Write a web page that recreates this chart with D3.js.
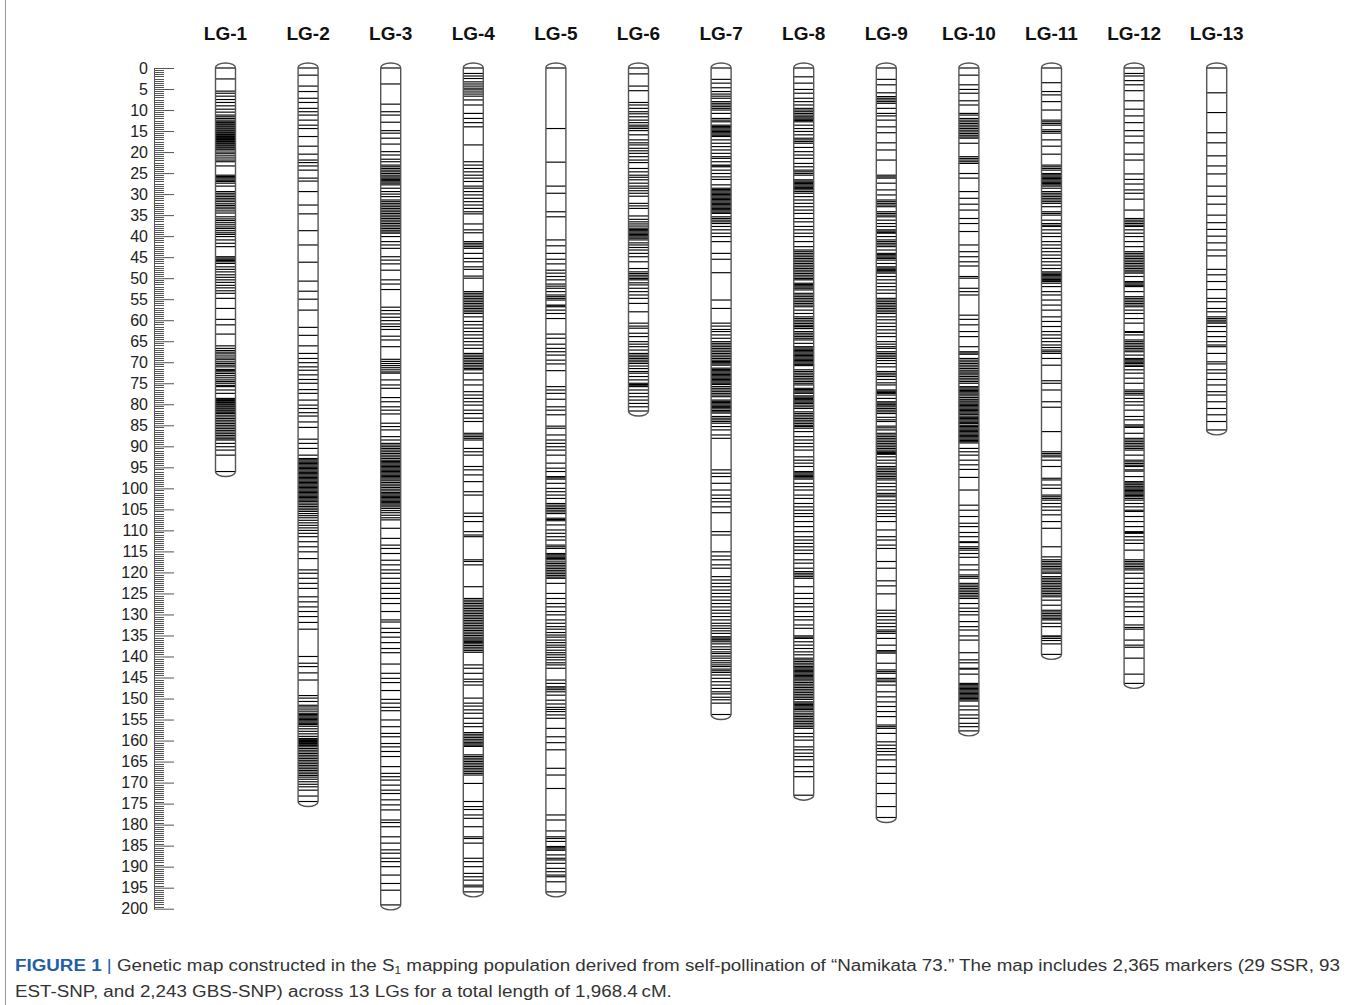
<!DOCTYPE html>
<html>
<head>
<meta charset="utf-8">
<script src="https://cdn.jsdelivr.net/npm/d3@7"></script>
<style>
  body { margin: 0; background: #fff; }
  svg { display: block; }
</style>
</head>
<body>
<div id="map"></div>
<script>
// linkage groups and marker positions (cM)
const lgNames = ["LG-1", "LG-2", "LG-3", "LG-4", "LG-5", "LG-6", "LG-7", "LG-8", "LG-9", "LG-10", "LG-11", "LG-12", "LG-13"];

const lg1 = [0,2.6,5.5,6.0,6.7,7.5,8.2,9.0,9.8,10.5,11.2,11.6,12.0,12.4,12.8,13.0,13.3,13.5,13.8,14.0,14.3,14.5,14.8,15.0,15.3,15.5,15.8,16.0,16.3,16.5,16.8,17.0,17.3,17.5,17.8,18.0,18.3,18.5,18.8,19.0,19.3,19.5,20.0,20.4,20.9,21.4,21.9,22.3,23.3,25.5,25.8,26.1,26.4,26.7,27.0,27.4,28.1,29.4,29.8,30.2,30.6,31.0,31.4,31.8,32.3,32.7,33.1,33.5,34.0,34.5,35.4,35.9,36.3,36.8,37.3,37.8,38.2,38.7,39.2,39.6,40.1,40.9,41.7,42.5,44.9,45.2,45.5,45.8,46.1,46.5,47.3,47.9,48.5,49.2,49.8,50.4,51.0,51.7,52.3,53.0,53.6,54.8,57.2,59.8,61.1,63.3,66.1,66.7,67.2,67.6,68.0,68.5,69.0,69.4,69.9,70.3,70.7,71.1,71.7,72.0,72.3,72.7,73.2,73.7,74.2,74.6,75.0,75.5,75.8,76.6,77.4,78.6,78.9,79.1,79.4,79.6,79.9,80.1,80.4,80.6,80.9,81.1,81.4,81.6,81.9,82.2,82.6,83.0,83.4,83.8,84.2,84.6,85.0,85.4,85.8,86.2,86.6,87.0,87.4,87.8,88.2,88.5,89.3,90.1,90.9,92.1,96.0];
const lg2 = [0,1.7,4.3,5.6,7.2,8.2,9.6,10.4,11.2,12.4,13.6,14.4,16.3,18.6,20.5,21.9,22.5,23.3,24.3,26.2,26.9,29.4,32.6,34.7,38.7,42.1,46.2,50.7,53.1,55.0,57.6,61.7,63.6,66.1,67.9,69.1,70.1,71.1,71.9,73.0,74.1,75.0,76.5,77.4,79.0,80.2,81.0,82.0,82.8,84.2,85.5,88.3,89.3,90.5,92.1,92.9,93.2,93.5,93.8,94.1,94.4,94.7,95.0,95.3,95.6,95.9,96.2,96.5,96.8,97.1,97.4,97.7,98.0,98.3,98.6,98.9,99.2,99.5,99.8,100.1,100.4,100.7,101.0,101.3,101.6,101.9,102.2,102.5,102.8,103.1,103.5,103.9,104.3,104.7,105.1,105.5,106.0,106.5,107.0,107.6,108.2,108.8,109.4,110.0,110.7,111.5,112.7,113.9,115.1,116.7,119.4,120.2,121.4,122.6,123.8,125.8,127.0,128.2,129.3,130.5,131.9,133.5,140.0,141.6,142.4,143.9,145.6,149.3,149.9,150.7,151.6,152.0,152.5,153.0,153.5,153.8,154.1,154.4,154.7,155.0,155.3,155.6,155.9,156.2,156.6,157.2,157.8,158.4,159.0,159.5,159.7,160.0,160.2,160.5,160.7,161.0,161.2,161.5,161.9,162.3,162.7,163.1,163.5,163.9,164.3,164.7,165.1,165.5,165.9,166.3,166.7,167.1,167.5,167.9,168.3,168.7,169.2,169.8,170.4,171.0,171.8,173.2,174.5];
const lg3 = [0,3.8,8.6,10.4,11.2,12.9,14.9,15.5,16.7,18.1,19.9,20.7,21.7,22.3,23.1,23.5,23.9,24.3,24.7,25.1,25.5,25.9,26.2,26.5,26.8,27.1,27.4,27.8,28.6,29.4,30.0,30.6,31.4,31.8,32.2,32.6,33.0,33.4,33.8,34.2,34.6,35.0,35.4,35.8,36.2,36.6,37.0,37.4,37.8,38.2,38.6,39.0,39.3,40.1,41.3,42.1,42.9,44.9,45.7,46.6,48.1,50.4,51.4,52.7,56.9,57.7,58.5,59.3,60.1,60.9,61.5,62.2,63.8,64.7,66.3,69.3,69.8,70.3,70.8,71.3,71.8,72.3,72.6,74.2,75.4,76.2,78.4,79.4,80.6,81.4,82.3,84.5,85.3,86.1,87.7,88.5,89.3,89.7,90.1,90.5,90.9,91.3,91.7,92.1,92.5,92.9,93.3,93.6,93.9,94.2,94.5,94.8,95.1,95.4,95.7,96.0,96.3,96.6,96.9,97.2,97.5,97.8,98.2,98.6,99.0,99.4,99.8,100.2,100.6,101.0,101.3,101.6,101.9,102.2,102.5,102.8,103.1,103.4,103.7,104.0,104.4,104.8,105.3,105.8,106.4,107.0,107.5,109.5,111.9,113.5,114.3,115.5,117.1,118.2,119.4,120.2,121.4,122.6,123.8,125.0,126.2,127.4,129.3,131.3,131.8,133.3,134.3,135.4,136.7,138.1,139.1,141.8,144.0,145.2,146.2,148.1,150.2,151.1,152.1,152.9,155.1,156.7,158.3,159.1,160.7,161.5,162.6,163.8,166.2,167.8,168.6,169.4,170.6,171.8,172.6,174.1,175.3,176.5,178.9,179.5,180.5,182.9,184.4,186.0,186.8,188.0,188.8,190.0,192.0,194.0,195.6,199.1];
const lg4 = [0,1.3,1.9,2.5,3.3,3.8,4.3,4.8,5.2,5.7,6.2,6.7,7.6,8.8,10.8,12.0,13.0,14.0,18.3,22.3,23.1,23.9,24.7,25.5,26.2,27.0,28.1,28.6,29.4,30.2,31.0,31.8,32.6,33.4,34.2,34.7,37.1,38.5,39.2,41.3,41.7,42.1,42.5,42.9,44.1,45.3,46.1,47.3,47.9,49.5,50.0,53.2,53.6,54.0,54.4,54.8,55.2,55.6,56.0,56.4,56.8,57.2,57.6,58.0,58.4,59.2,60.3,61.1,61.9,62.7,63.5,64.3,65.1,65.9,66.7,67.9,68.3,68.7,69.1,69.5,69.9,70.3,70.7,71.1,71.5,71.8,72.6,74.2,75.4,77.0,77.8,78.6,79.4,80.2,81.4,82.2,83.3,84.1,86.9,87.3,87.7,88.1,88.5,90.5,91.3,92.1,94.8,95.6,96.8,98.4,100.8,101.6,105.9,106.7,107.9,110.3,111.1,111.5,117.0,117.4,118.2,123.4,126.2,126.6,127.0,127.4,127.8,128.2,128.6,129.0,129.4,129.8,130.2,130.6,131.0,131.4,131.8,132.2,132.6,133.0,133.4,133.8,134.2,134.6,135.0,135.4,135.8,136.1,136.4,136.7,137.0,137.4,137.8,138.2,138.6,139.0,142.0,142.8,144.0,145.4,146.0,146.8,149.9,151.1,151.8,152.7,153.5,154.7,155.9,156.7,158.1,158.5,158.9,159.3,159.7,160.1,160.5,160.8,161.1,161.4,163.4,163.8,164.2,164.6,165.0,165.4,165.8,166.2,166.6,167.0,167.4,167.8,168.2,170.2,174.5,175.7,176.4,177.7,178.5,180.5,182.9,183.3,184.4,188.0,188.8,190.0,191.6,192.4,193.2,194.4,194.8,196.0];
const lg5 = [0,14.4,22.4,28.1,29.8,34.2,35.4,40.9,42.3,44.1,45.5,46.6,48.1,48.8,49.6,50.4,51.4,51.9,52.4,53.2,54.0,54.4,54.8,55.2,56.4,56.6,56.8,57.6,58.4,59.6,63.3,64.3,65.7,66.7,67.5,68.3,69.5,70.4,72.0,75.8,76.6,77.4,78.8,80.6,81.4,82.5,85.2,85.7,87.3,88.5,89.3,90.1,90.9,92.1,94.0,95.2,96.0,97.2,97.5,97.8,98.8,100.0,100.8,101.6,102.4,103.6,104.0,104.4,104.8,105.2,105.6,106.0,107.1,107.4,107.7,108.7,109.9,110.7,111.5,112.3,113.5,113.9,114.3,115.5,115.8,116.1,116.4,116.7,117.0,117.5,117.9,118.3,118.7,119.1,119.5,119.9,120.3,120.7,121.1,121.4,122.6,125.0,126.2,127.4,128.2,129.3,130.1,131.3,132.1,132.9,133.5,134.3,134.9,135.4,136.1,136.7,137.3,137.8,138.5,139.1,139.6,140.2,140.8,141.5,142.0,142.8,145.6,146.4,147.2,147.5,147.9,148.4,149.2,150.4,151.3,152.1,152.6,153.1,153.9,154.7,157.1,159.1,160.5,162.2,166.6,168.2,171.4,177.7,178.9,181.5,182.9,183.3,184.0,185.2,185.5,185.8,186.1,187.2,188.0,188.4,189.2,190.4,191.2,192.0,192.4,193.6,196.0];
const lg6 = [0,1.4,4.3,5.4,8.2,8.8,9.6,10.4,10.9,11.6,12.4,13.0,13.6,14.0,14.4,14.9,15.9,17.1,17.8,18.3,19.1,19.7,20.3,21.1,21.9,22.5,23.9,24.7,25.5,26.0,26.6,27.4,28.1,28.6,29.2,29.8,30.5,32.2,32.8,33.4,35.2,36.0,36.6,37.1,37.6,38.1,38.4,38.7,39.0,39.3,39.6,39.9,40.2,40.5,40.9,41.6,42.1,42.7,43.3,44.1,44.9,46.1,47.7,48.5,48.9,49.3,49.7,50.1,50.4,51.1,51.6,52.4,53.2,54.0,54.8,56.0,58.0,60.7,61.4,61.9,63.1,63.9,65.1,65.7,66.3,67.1,67.9,68.3,68.7,69.1,69.5,69.9,70.3,70.9,71.5,72.2,72.6,73.4,74.2,75.0,75.3,75.6,75.8,76.6,77.4,78.2,79.0,79.8,80.6,81.6];
const lg7 = [0,2.7,3.6,4.7,5.6,6.2,6.7,7.2,8.0,8.4,8.8,9.2,9.6,10.0,10.8,12.0,12.4,12.8,13.6,13.9,14.2,14.5,14.8,15.1,15.4,15.7,16.0,16.3,17.1,17.9,18.7,19.5,20.3,21.1,21.5,22.3,23.1,23.3,23.5,24.3,25.1,25.9,26.5,27.8,28.6,28.9,29.2,29.5,29.8,30.1,30.4,30.7,31.0,31.3,31.6,31.9,32.2,32.5,32.8,33.1,33.4,33.7,34.0,34.3,34.6,35.4,35.8,36.2,36.6,37.0,37.7,38.5,39.3,40.1,41.3,44.1,45.5,48.7,55.2,57.2,60.7,61.4,62.2,62.7,63.5,64.3,65.1,65.5,65.9,66.3,66.7,67.1,67.5,67.9,68.3,68.7,69.1,69.5,69.8,70.1,70.4,70.7,71.4,71.7,72.0,72.3,72.6,72.9,73.2,73.5,73.8,74.1,74.4,74.7,75.0,75.3,75.8,76.2,76.6,77.0,77.4,77.8,78.2,79.0,79.3,79.6,79.9,80.2,80.5,80.8,81.1,81.5,81.8,82.1,82.9,83.3,83.7,84.1,84.5,85.3,86.1,87.3,88.1,95.6,96.4,97.2,98.8,100.4,101.6,102.4,103.2,104.4,105.8,110.3,111.1,115.1,116.1,117.0,118.2,119.0,121.0,121.8,122.6,123.4,124.2,125.0,125.8,126.6,127.4,128.2,129.0,129.7,130.5,131.3,132.1,132.7,133.3,133.9,134.5,135.3,135.6,135.9,136.1,136.5,137.0,137.7,138.3,138.9,139.3,139.9,140.4,141.0,141.5,142.0,142.4,143.0,143.4,143.8,144.4,145.2,146.0,146.8,147.6,148.4,148.9,149.7,150.3,151.1,153.8];
const lg8 = [0,2.1,3.6,5.1,6.0,7.2,8.0,8.8,9.6,10.0,10.4,10.8,11.2,11.6,11.9,12.2,12.5,12.8,13.6,14.4,15.1,15.9,16.7,17.1,17.5,17.9,18.9,19.9,20.7,21.5,22.7,23.5,24.3,24.7,25.1,25.5,26.6,26.9,27.2,27.5,27.8,28.1,28.4,28.7,29.0,29.4,29.8,30.6,31.4,32.2,33.0,33.8,34.6,35.8,36.6,37.7,38.5,39.3,40.1,41.3,42.5,43.3,43.7,44.1,44.5,44.9,45.3,45.7,46.1,46.5,46.9,47.3,47.7,48.1,48.5,48.9,49.3,49.7,50.1,50.4,51.2,51.5,51.8,52.1,52.4,52.8,53.6,54.0,54.4,54.8,55.2,55.6,56.0,56.4,56.8,57.6,58.4,59.2,59.6,60.0,60.4,60.8,61.2,61.5,61.9,62.0,62.7,63.1,63.5,63.9,64.3,64.7,65.5,66.3,66.6,66.9,67.2,67.5,67.8,68.1,68.4,68.7,69.0,69.3,69.6,69.9,70.2,70.5,70.8,71.8,72.2,72.6,73.0,73.4,73.8,74.2,74.6,75.0,75.4,76.2,76.5,76.8,77.1,77.4,78.0,78.3,78.6,78.9,79.2,79.5,79.8,80.2,80.6,81.0,81.8,82.2,82.6,83.0,83.4,83.8,84.2,84.6,85.0,85.3,85.7,86.5,87.7,88.5,89.3,90.1,90.9,92.5,93.3,94.0,94.8,96.0,96.3,96.6,96.9,97.2,97.5,97.8,98.8,99.6,100.4,101.6,102.4,103.6,104.4,105.2,106.0,106.7,107.9,109.1,110.3,111.5,112.3,113.1,113.9,114.7,115.5,117.0,117.8,119.0,119.8,120.2,120.6,121.0,121.4,123.4,125.0,126.2,127.4,128.2,129.3,130.5,131.3,132.5,133.3,135.1,135.4,135.7,136.5,137.3,138.1,138.9,139.6,140.4,140.8,141.2,141.6,142.0,142.4,142.7,143.0,143.3,143.6,143.9,144.2,144.5,144.8,145.1,145.4,145.8,146.2,146.6,147.0,147.4,147.8,148.2,148.6,149.0,149.4,149.8,150.2,150.8,151.1,151.4,151.7,152.0,152.3,152.6,153.0,153.5,153.9,154.3,154.7,155.1,155.5,155.9,156.3,156.7,157.1,158.3,159.1,159.9,161.5,162.2,163.0,163.8,164.6,166.2,167.4,168.6,173.0];
const lg9 = [0,2.7,4.0,5.9,6.8,7.2,7.6,8.0,8.4,9.6,10.8,11.4,12.4,14.0,15.4,17.8,19.5,21.9,25.5,25.9,26.2,27.4,29.0,30.2,31.4,31.8,32.2,32.6,33.0,34.2,34.6,35.0,35.4,36.2,37.0,37.7,38.5,38.8,39.1,39.3,40.1,40.9,41.3,41.7,42.1,42.5,43.3,44.1,44.4,44.7,45.0,45.3,45.7,46.5,47.3,47.6,47.9,48.2,48.5,48.8,49.6,50.4,51.2,52.0,52.8,53.6,54.8,55.2,55.6,56.0,56.4,56.8,57.2,57.6,58.0,58.4,59.2,59.9,60.7,61.5,62.3,63.1,63.9,65.1,65.7,66.3,66.7,67.5,67.9,68.3,68.7,69.1,69.6,70.3,71.1,72.2,72.6,73.0,73.4,74.1,74.9,75.4,76.6,76.9,77.2,77.4,77.8,78.6,79.4,79.7,80.0,80.2,80.6,81.0,81.4,81.8,82.2,83.1,83.7,84.1,85.2,85.6,86.1,86.9,87.3,87.7,88.1,88.5,88.9,89.3,89.7,90.1,90.5,90.9,91.3,91.5,91.7,91.9,92.5,93.3,94.0,94.8,95.2,95.6,96.0,96.4,96.8,97.2,97.6,98.0,98.8,99.6,100.4,101.2,101.6,102.0,102.8,103.6,104.4,105.2,106.0,106.7,107.9,109.9,111.5,112.3,113.5,114.3,117.4,119.0,122.0,123.2,125.1,129.0,129.7,130.5,131.3,132.1,132.9,133.7,134.1,134.5,135.7,137.3,138.6,138.9,139.2,141.6,143.2,143.6,144.0,145.2,145.6,146.0,146.8,148.4,149.6,150.8,151.9,153.1,154.3,156.3,156.7,157.1,158.3,160.3,161.1,161.9,162.6,163.4,164.6,166.2,167.8,170.2,172.6,175.7,178.3];
const lg10 = [0,1.7,4.0,5.1,6.0,7.8,8.8,10.8,11.2,12.0,12.4,12.8,13.2,13.6,14.0,14.4,14.8,15.2,15.6,16.0,16.4,16.7,17.9,21.1,21.5,21.9,22.3,22.7,25.1,26.2,29.4,31.0,32.4,33.8,35.8,37.0,38.9,42.1,43.7,44.9,46.1,47.1,49.6,50.0,52.4,53.2,54.0,58.8,59.8,61.1,62.7,63.9,66.3,67.5,67.8,68.1,69.1,69.5,69.9,70.3,70.7,71.1,71.5,71.9,72.3,72.6,73.0,73.4,73.8,74.2,74.6,75.0,75.8,76.1,76.4,76.7,77.0,77.3,77.6,78.0,78.4,78.8,79.0,79.4,79.7,80.0,80.3,80.6,80.9,81.2,81.5,81.8,82.1,82.4,82.8,83.1,83.4,83.7,84.0,84.3,84.6,85.0,85.3,85.6,85.9,86.2,86.5,86.8,87.1,87.4,87.7,88.0,88.3,88.6,88.9,89.2,90.5,91.3,92.1,93.3,94.4,95.5,97.4,100.4,104.0,105.2,106.7,108.3,109.1,110.5,111.5,112.7,112.9,113.9,114.3,114.7,115.5,116.4,118.2,119.4,120.6,121.0,121.4,122.6,123.0,123.4,123.8,124.2,124.6,125.0,125.4,125.8,126.2,127.4,128.5,129.3,130.1,131.7,132.9,133.7,135.1,136.1,139.1,140.8,141.5,142.8,143.0,144.2,146.4,146.7,147.0,147.3,147.6,147.9,148.2,148.5,148.8,149.1,149.4,149.7,150.0,150.3,150.6,151.8,152.7,153.9,154.7,155.9,156.7,157.7];
const lg11 = [0,3.5,5.6,6.4,8.0,10.0,12.4,12.8,13.2,13.6,14.7,15.1,15.5,17.1,18.6,20.5,23.1,23.5,23.9,24.3,25.1,25.4,25.7,26.0,26.3,26.6,26.9,27.2,27.5,27.8,28.1,28.6,29.4,29.8,30.2,30.6,31.0,31.4,31.8,32.2,33.0,34.2,34.6,35.0,36.2,37.0,37.4,37.7,38.5,39.3,40.1,41.3,42.1,42.9,43.7,44.5,45.3,46.1,46.9,47.7,48.5,48.8,49.1,49.4,49.7,50.0,50.3,50.6,50.8,51.2,52.0,53.2,54.0,55.2,56.4,57.6,59.2,60.3,61.5,62.7,63.5,64.3,65.1,65.9,66.5,67.1,67.5,67.9,69.1,70.7,74.4,75.0,76.6,79.4,80.7,86.5,91.3,91.7,92.1,92.5,93.3,94.8,97.6,98.0,99.2,100.0,101.6,102.0,102.4,102.8,103.6,104.4,105.2,106.3,107.9,109.5,113.9,116.3,117.0,117.4,117.8,118.2,118.6,119.0,119.4,119.9,120.2,121.0,121.4,121.8,122.2,122.6,123.0,123.4,123.8,124.2,124.6,125.0,125.4,125.8,126.6,127.8,129.0,129.4,129.8,130.2,130.6,131.0,131.3,132.1,132.9,135.1,135.3,135.7,136.2,137.0,139.5];
const lg12 = [0,1.3,1.9,3.0,4.0,5.4,7.8,9.8,11.4,13.0,14.9,16.2,17.8,20.5,21.9,25.2,26.5,27.6,29.0,29.8,31.2,33.8,35.8,36.2,36.6,37.0,37.4,37.7,38.5,39.3,40.1,41.3,42.5,43.7,44.1,44.5,44.9,45.3,45.7,46.1,46.5,46.9,47.3,47.7,48.1,48.5,48.8,49.6,50.8,51.1,51.4,51.7,52.0,53.2,54.4,54.8,55.2,55.6,56.0,56.4,56.8,57.6,58.4,59.6,60.7,62.7,62.9,63.5,64.7,65.1,65.5,65.9,66.3,66.7,67.1,67.5,68.3,69.1,69.4,69.7,70.0,70.3,70.7,71.0,71.8,72.6,73.8,75.0,76.6,77.0,77.4,77.8,78.6,79.4,80.2,81.4,82.9,83.7,84.9,85.2,85.5,86.9,88.1,88.5,88.9,89.3,89.7,90.1,90.5,90.9,92.1,93.3,93.7,94.1,94.5,94.8,95.6,95.9,97.2,98.4,98.7,99.0,99.2,99.6,99.9,100.2,100.5,100.8,101.1,101.4,101.7,102.0,102.4,102.8,103.6,104.4,105.2,105.5,106.7,107.9,109.1,110.3,110.5,110.7,111.5,112.3,113.1,114.7,117.0,117.4,117.8,118.2,118.6,119.0,119.4,120.2,121.4,122.6,123.8,125.0,125.8,127.0,128.2,129.3,130.5,132.5,133.1,133.5,136.1,137.3,137.8,140.4,144.2,146.4];
const lg13 = [0,5.9,10.6,15.4,17.8,20.9,23.3,25.2,28.1,30.5,32.4,35.0,36.8,38.4,40.0,41.6,43.3,44.7,47.9,49.2,50.8,52.7,54.8,55.6,57.2,58.0,59.2,59.6,60.0,60.4,60.7,61.5,62.7,63.9,65.1,65.9,66.3,67.9,69.9,70.4,71.8,72.6,74.1,75.4,77.0,77.8,79.4,81.0,82.5,84.1,86.1];

const markers = [lg1, lg2, lg3, lg4, lg5, lg6, lg7, lg8, lg9, lg10, lg11, lg12, lg13];

// axis
const axisMax = 200;
const majorTicks = d3.range(0, axisMax + 1, 5);
const minorTicks = d3.range(0, axisMax * 2 + 1).map(v => v / 2).filter(v => v % 5 !== 0);

const captionLine1 = "Genetic map constructed in the S";
const captionSub = "1";
const captionLine1b = " mapping population derived from self-pollination of \u201cNamikata 73.\u201d The map includes 2,365 markers (29 SSR, 93";
const captionLine2 = "EST-SNP, and 2,243 GBS-SNP) across 13 LGs for a total length of 1,968.4\u2009cM.";

const W = 1355, H = 1005;
const font = "'Liberation Sans', Arial, sans-serif";
const barW = 20, capH = 5;

const svg = d3.select("#map").append("svg")
    .attr("width", W)
    .attr("height", H)
    .style("font-family", font);

const y = d3.scaleLinear().domain([0, axisMax]).range([68, 908.7]);
const x = d3.scalePoint().domain(lgNames).range([225.5, 1216.7]);

// frame
svg.append("line")
    .attr("x1", 5.5).attr("x2", 5.5).attr("y1", 0).attr("y2", H)
    .attr("stroke", "#999").attr("stroke-width", 1);

// minor ticks
const minorG = svg.append("g").attr("transform", "translate(154,0)")
    .call(d3.axisLeft(y).tickValues(minorTicks).tickSizeInner(-10).tickSizeOuter(0).tickFormat(""));
minorG.selectAll(".tick line").attr("shape-rendering", "crispEdges");
// major ticks + labels
const majorG = svg.append("g").attr("transform", "translate(154,0)")
    .call(d3.axisLeft(y).tickValues(majorTicks).tickSizeInner(-20).tickSizeOuter(0).tickPadding(6));

svg.selectAll(".domain, .tick line").attr("stroke", "#555").attr("stroke-width", 1);
majorG.selectAll("text")
    .attr("font-family", font)
    .attr("font-size", 16)
    .attr("fill", "#222");

// linkage groups
const lgData = lgNames.map((name, i) => ({ name, pos: markers[i], len: d3.max(markers[i]) }));

const barPath = d => {
    const t = y(0), b = y(d.len), h = barW / 2;
    return `M${-h},${t} A${h},${capH} 0 0 1 ${h},${t} L${h},${b} A${h},${capH} 0 0 1 ${-h},${b} Z`;
};

const g = svg.selectAll("g.lg")
    .data(lgData)
    .join("g")
    .attr("class", "lg")
    .attr("transform", d => `translate(${x(d.name)},0)`);

g.append("path")
    .attr("d", barPath)
    .attr("fill", "#fff");

g.selectAll("line.marker")
    .data(d => d.pos)
    .join("line")
    .attr("class", "marker")
    .attr("x1", -barW / 2)
    .attr("x2", barW / 2)
    .attr("y1", v => y(v))
    .attr("y2", v => y(v))
    .attr("stroke", "#000")
    .attr("stroke-width", 1.15);

g.append("path")
    .attr("d", barPath)
    .attr("fill", "none")
    .attr("stroke", "#555")
    .attr("stroke-width", 1.4);

g.append("text")
    .attr("y", 40)
    .attr("text-anchor", "middle")
    .attr("font-size", 19)
    .attr("font-weight", "bold")
    .attr("fill", "#111")
    .text(d => d.name);

// caption
const cap = svg.append("g").attr("font-size", 16).attr("fill", "#333");
const t1 = cap.append("text").attr("x", 15).attr("y", 971);
t1.append("tspan").attr("font-weight", "bold").attr("fill", "#1f5ea8").text("FIGURE 1");
t1.append("tspan").attr("fill", "#1f5ea8").text(" | ");
t1.append("tspan").text(captionLine1);
t1.append("tspan").attr("font-size", 10).attr("dy", 3).text(captionSub);
t1.append("tspan").attr("dy", -3).text(captionLine1b);
const t2 = cap.append("text").attr("x", 15).attr("y", 997).text(captionLine2);

const n1 = t1.node().getComputedTextLength();
const n2 = t2.node().getComputedTextLength();
const target1 = 1325;
t1.attr("textLength", target1).attr("lengthAdjust", "spacingAndGlyphs");
t2.attr("textLength", n2 * target1 / n1).attr("lengthAdjust", "spacingAndGlyphs");
</script>
</body>
</html>
